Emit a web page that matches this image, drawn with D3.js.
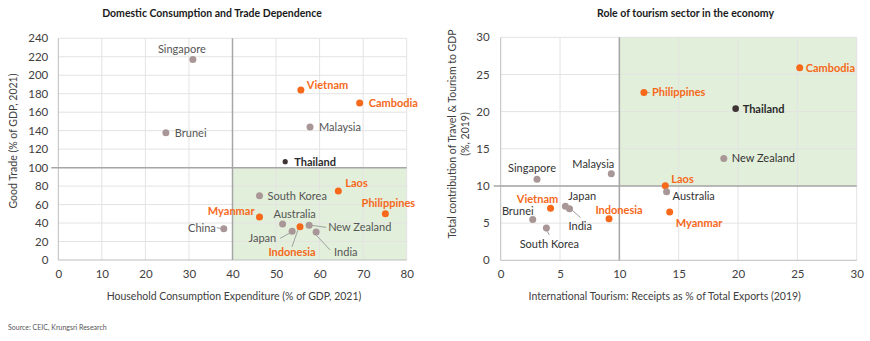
<!DOCTYPE html>
<html><head><meta charset="utf-8">
<script src="https://cdn.jsdelivr.net/npm/d3@7"></script>
<style>
html,body{margin:0;padding:0;background:#fff;}
svg{display:block;font-family:Lato,"Open Sans",sans-serif;}
</style></head>
<body><svg id="chart" width="870" height="341"></svg>
<script>
// ---------- Data: chart 1 ----------
const countries1 = ["Singapore","Brunei","Vietnam","Cambodia","Malaysia","Thailand","Laos","South Korea","Philippines","Myanmar","Australia","China","Japan","Indonesia","New Zealand","India"];
const consumption = [30.9,24.7,55.7,69.2,57.8,52.1,64.3,46.2,75.1,46.2,51.5,38.0,53.7,55.5,57.6,59.2];
const trade = [217,137.8,184,170,144,106.4,74.7,69.6,50.1,46.5,39,33.9,31,36,37.5,30.3];
const group1 = ["g","g","o","o","g","t","o","g","o","o","g","g","g","o","g","g"];
const xTicks1 = [0,10,20,30,40,50,60,70,80];
const yTicks1 = [0,20,40,60,80,100,120,140,160,180,200,220,240];

// ---------- Data: chart 2 ----------
const countries2 = ["Cambodia","Philippines","Thailand","New Zealand","Singapore","Malaysia","Laos","Australia","Vietnam","Japan","India","Indonesia","Myanmar","Brunei","South Korea"];
const receipts = [25.2,12.07,19.8,18.8,3.06,9.32,13.87,13.98,4.2,5.45,5.8,9.13,14.24,2.7,3.85];
const contribution = [25.9,22.56,20.4,13.7,10.9,11.66,10.04,9.23,7.0,7.27,6.95,5.6,6.5,5.5,4.35];
const group2 = ["o","o","t","g","g","g","o","g","o","g","g","o","o","g","g"];
const xTicks2 = [0,5,10,15,20,25,30];
const yTicks2 = [0,5,10,15,20,25,30];

// ---------- Layout (label placement, not data) ----------
// [dx, dy, anchor, leader(x1,y1,x2,y2) offsets or null]
const labelPos1 = {
  "Singapore":[-11,-10,"middle",null],
  "Brunei":[9,0,"start",null],
  "Vietnam":[6,-5,"start",null],
  "Cambodia":[9,0,"start",null],
  "Malaysia":[9,0,"start",null],
  "Thailand":[9,0,"start",null],
  "Laos":[7,-8,"start",null],
  "South Korea":[8,0,"start",null],
  "Philippines":[3,-11,"middle",null],
  "Myanmar":[-5,-6,"end",null],
  "Australia":[-9,-10,"start",null],
  "China":[-8,-1,"end",[-7,-1,-2,0]],
  "Japan":[-16,7,"end",[-12,7,-3,2]],
  "Indonesia":[-8,25,"middle",[-8,20,-2,3]],
  "New Zealand":[19,2,"start",[3,0,17,2]],
  "India":[18,20,"start",[0,3,14,18]]
};
const labelPos2 = {
  "Cambodia":[6,0,"start",null],
  "Philippines":[8,0,"start",[2,0,6,0]],
  "Thailand":[7,0,"start",null],
  "New Zealand":[8,0,"start",null],
  "Singapore":[-5,-11,"middle",null],
  "Malaysia":[-18,-9,"middle",null],
  "Laos":[6,-7,"start",null],
  "Australia":[6,4,"start",null],
  "Vietnam":[-13,-9,"middle",null],
  "Japan":[3,-10,"start",null],
  "India":[-1,18,"start",[2,1,11,9]],
  "Indonesia":[10,-9,"middle",null],
  "Myanmar":[6,11,"start",null],
  "Brunei":[-15,-8,"middle",null],
  "South Korea":[3,16,"middle",[0,2,3,7]]
};

const ORANGE="#F6691B", GRAY="#A99797", THAI="#3E3434";
const GREEN="#E2EFDA";
const svg = d3.select("#chart");

function drawChart(cfg){
  const g = svg.append("g");
  const x = d3.scaleLinear().domain(cfg.xDom).range([cfg.left,cfg.right]);
  const y = d3.scaleLinear().domain(cfg.yDom).range([cfg.bottom,cfg.top]);
  // shaded quadrant
  g.append("rect").attr("x",x(cfg.shade[0])).attr("y",y(cfg.shade[3]))
    .attr("width",x(cfg.shade[1])-x(cfg.shade[0])).attr("height",y(cfg.shade[2])-y(cfg.shade[3]))
    .attr("fill",GREEN);
  // grid
  g.selectAll(".vg").data(cfg.xTicks.slice(1)).enter().append("line")
    .attr("x1",d=>x(d)).attr("x2",d=>x(d)).attr("y1",cfg.top).attr("y2",cfg.bottom)
    .attr("stroke","#E3E3E3").attr("stroke-width",1);
  g.selectAll(".hg").data(cfg.yTicks.slice(1)).enter().append("line")
    .attr("y1",d=>y(d)).attr("y2",d=>y(d)).attr("x1",cfg.left).attr("x2",cfg.right)
    .attr("stroke","#E3E3E3").attr("stroke-width",1);
  // axes lines
  g.append("line").attr("x1",cfg.left).attr("x2",cfg.left).attr("y1",cfg.top).attr("y2",cfg.bottom).attr("stroke","#BDBDBD");
  g.append("line").attr("x1",cfg.left).attr("x2",cfg.right).attr("y1",cfg.bottom).attr("y2",cfg.bottom).attr("stroke","#BDBDBD");
  // quadrant lines
  g.append("line").attr("x1",x(cfg.qx)).attr("x2",x(cfg.qx)).attr("y1",cfg.top).attr("y2",cfg.bottom).attr("stroke","#A6A6A6").attr("stroke-width",1.5);
  g.append("line").attr("x1",cfg.left-7).attr("x2",cfg.right).attr("y1",y(cfg.qy)).attr("y2",y(cfg.qy)).attr("stroke","#A6A6A6").attr("stroke-width",1.5);
  // axis tick labels via d3 axes
  const ax = g.append("g").attr("transform",`translate(0,${cfg.bottom})`)
    .call(d3.axisBottom(x).tickValues(cfg.xTicks).tickSize(0).tickPadding(10));
  const ay = g.append("g").attr("transform",`translate(${cfg.left},0)`)
    .call(d3.axisLeft(y).tickValues(cfg.yTicks).tickSize(0).tickPadding(cfg.ypad));
  [ax,ay].forEach(a=>{a.select(".domain").remove();
    a.selectAll("text").attr("font-size",cfg.tickFs).attr("fill","#404040").attr("font-family","Lato, sans-serif");});
  // title
  g.append("text").attr("x",cfg.titleX).attr("y",17).attr("text-anchor","middle")
    .attr("font-size",10.5).attr("font-weight","bold").attr("fill","#1a1a1a").text(cfg.title);
  // x label
  g.append("text").attr("x",cfg.xlabX).attr("y",cfg.xlabY).attr("text-anchor","middle")
    .attr("font-size",cfg.labFs).attr("fill","#404040").text(cfg.xLabel);
  // y label
  cfg.yLabel.forEach((t,i)=>{
    g.append("text").attr("transform",`translate(${cfg.ylabX[i]},${cfg.ylabY}) rotate(-90)`)
      .attr("text-anchor","middle").attr("font-size",cfg.labFs).attr("fill","#404040").text(t);
  });
  // points
  const data = cfg.names.map((n,i)=>({n, x:cfg.xs[i], y:cfg.ys[i], g:cfg.groups[i]}));
  const col = d=> d.g==="o"?ORANGE:(d.g==="t"?THAI:GRAY);
  data.forEach(d=>{
    const p = cfg.labels[d.n]; const px=x(d.x), py=y(d.y);
    if(p[3]){
      g.append("line").attr("x1",px+p[3][0]).attr("y1",py+p[3][1]).attr("x2",px+p[3][2]).attr("y2",py+p[3][3])
       .attr("stroke","#A0A0A0").attr("stroke-width",1);
    }
  });
  g.selectAll(".pt").data(data).enter().append("circle")
    .attr("cx",d=>x(d.x)).attr("cy",d=>y(d.y)).attr("r",d=>d.g==="t"?cfg.thaiR:3.5).attr("fill",col);
  g.selectAll(".lb").data(data).enter().append("text")
    .attr("x",d=>x(d.x)+cfg.labels[d.n][0]).attr("y",d=>y(d.y)+cfg.labels[d.n][1])
    .attr("dy","0.35em").attr("text-anchor",d=>cfg.labels[d.n][2])
    .attr("font-size",cfg.ptFs)
    .attr("font-weight",d=>d.g==="g"?"normal":"bold")
    .attr("fill",d=>d.g==="o"?ORANGE:(d.g==="t"?"#2b2b2b":cfg.grayText))
    .text(d=>d.n);
}

drawChart({
  title:"Domestic Consumption and Trade Dependence", titleX:212,
  xDom:[0,80], yDom:[0,240], left:58.3, right:406.7, top:38.3, bottom:260,
  xTicks:xTicks1, yTicks:yTicks1, shade:[40,80,0,100], qx:40, qy:100,
  xLabel:"Household Consumption Expenditure (% of GDP, 2021)", xlabX:234, xlabY:300,
  yLabel:["Good Trade (% of GDP, 2021)"], ylabX:[17], ylabY:141,
  names:countries1, xs:consumption, ys:trade, groups:group1, labels:labelPos1,
  tickFs:11.5, labFs:10.5, ptFs:11, ypad:10, grayText:"#555555", thaiR:2.6
});
drawChart({
  title:"Role of tourism sector in the economy", titleX:685.5,
  xDom:[0,30], yDom:[0,30], left:500.7, right:856.7, top:37.3, bottom:260.3,
  xTicks:xTicks2, yTicks:yTicks2, shade:[10,30,10,30], qx:10, qy:10,
  xLabel:"International Tourism: Receipts as % of Total Exports (2019)", xlabX:664.7, xlabY:300,
  yLabel:["Total contribution of Travel & Tourism to GDP","(%, 2019)"], ylabX:[456,469], ylabY:134,
  names:countries2, xs:receipts, ys:contribution, groups:group2, labels:labelPos2,
  tickFs:11.5, labFs:10.5, ptFs:11, ypad:11, grayText:"#333333", thaiR:3.3
});

svg.append("text").attr("x",8).attr("y",330).attr("font-size",7).attr("fill","#555")
  .text("Source: CEIC, Krungsri Research");
</script></body></html>
